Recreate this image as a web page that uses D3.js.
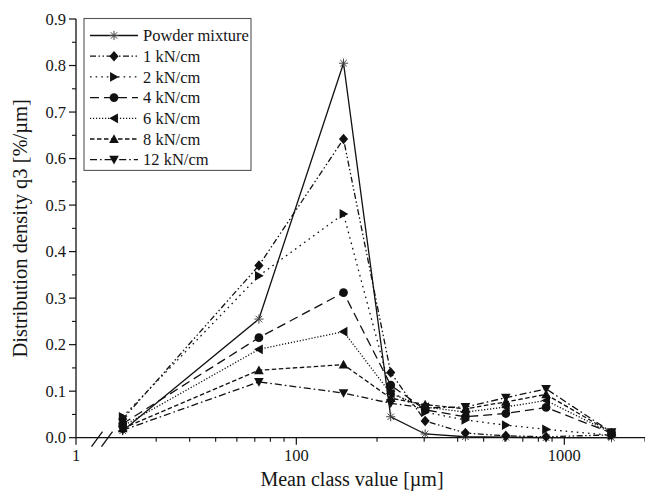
<!DOCTYPE html>
<html>
<head>
<meta charset="utf-8">
<script src="https://cdn.jsdelivr.net/npm/d3@7/dist/d3.min.js"></script>
<style>
  html, body { margin: 0; padding: 0; background: #fff; }
  svg { display: block; }
  text { font-family: "Liberation Serif", "Times New Roman", serif; fill: #151515; }
</style>
</head>
<body>
<svg id="chart" width="645" height="491"></svg>
<script>
// Mean class values of the sieve fractions [µm]
const classMeans = [22.5, 72.5, 150, 225, 302.5, 427.5, 605, 855, 1500];

// Distribution density q3 [%/µm] per roll compaction force
const powderMixture = [0.015, 0.255, 0.805, 0.045, 0.008, 0.002, 0.001, 0.000, 0.000];
const kN1  = [0.040, 0.370, 0.642, 0.140, 0.036, 0.010, 0.004, 0.002, 0.006];
const kN2  = [0.045, 0.348, 0.481, 0.100, 0.055, 0.038, 0.027, 0.018, 0.005];
const kN4  = [0.030, 0.215, 0.312, 0.113, 0.060, 0.045, 0.052, 0.065, 0.010];
const kN6  = [0.025, 0.190, 0.228, 0.095, 0.066, 0.055, 0.066, 0.080, 0.010];
const kN8  = [0.020, 0.145, 0.157, 0.085, 0.071, 0.062, 0.077, 0.093, 0.011];
const kN12 = [0.016, 0.120, 0.096, 0.074, 0.064, 0.066, 0.086, 0.105, 0.012];

const seriesNames = ["Powder mixture", "1 kN/cm", "2 kN/cm", "4 kN/cm", "6 kN/cm", "8 kN/cm", "12 kN/cm"];
const seriesValues = [powderMixture, kN1, kN2, kN4, kN6, kN8, kN12];

// Axis ticks
const yTicks = [0.0, 0.1, 0.2, 0.3, 0.4, 0.5, 0.6, 0.7, 0.8, 0.9];
const yTickLabels = ["0.0", "0.1", "0.2", "0.3", "0.4", "0.5", "0.6", "0.7", "0.8", "0.9"];
const xMajorTicks = [1, 100, 1000];
const xTickLabels = ["1", "100", "1000"];
const xMinorTicks = [30, 40, 50, 60, 70, 80, 90, 200, 300, 400, 500, 600, 700, 800, 900, 2000];

// Line styles and symbols, one per series
const dashes = [null, "6,2.5,1.5,2.5,1.5,2.5", "1.6,4", "9,5", "1.2,1.8", "4.5,2.5", "7,3,1.6,3"];
const symbols = ["asterisk", "diamond", "triRight", "circle", "triLeft", "triUp", "triDown"];

const svg = d3.select("#chart");
const plotLeft = 76, plotRight = 645, plotTop = 19, plotBottom = 437.7;

// Broken log axis: a short stub holding "1", then the log segment from 20 µm upward
const xMain = d3.scaleLog().domain([20, 2000]).range([109, plotRight]);
const xStub = d3.scaleLinear().domain([1, 2]).range([plotLeft, 96]);
const x = v => (v < 20 ? xStub(v) : xMain(v));
const y = d3.scaleLinear().domain([0, 0.9]).range([plotBottom, plotTop]);

const ink = "#111";

// ---- y axis ----
const gy = svg.append("g");
gy.append("line").attr("x1", plotLeft).attr("x2", plotLeft)
  .attr("y1", y(0.9)).attr("y2", y(0)).attr("stroke", ink).attr("stroke-width", 1.3);
yTicks.forEach((t, i) => {
  gy.append("line").attr("x1", plotLeft - 7).attr("x2", plotLeft)
    .attr("y1", y(t)).attr("y2", y(t)).attr("stroke", ink).attr("stroke-width", 1.2);
  gy.append("text").attr("x", plotLeft - 10).attr("y", y(t)).attr("dy", "0.35em")
    .attr("text-anchor", "end").attr("font-size", 16.5).text(yTickLabels[i]);
  if (i < yTicks.length - 1) {
    const m = (t + yTicks[i + 1]) / 2;
    gy.append("line").attr("x1", plotLeft - 4).attr("x2", plotLeft)
      .attr("y1", y(m)).attr("y2", y(m)).attr("stroke", ink).attr("stroke-width", 1.1);
  }
});
gy.append("text")
  .attr("transform", `translate(27,${(y(0) + y(0.9)) / 2}) rotate(-90)`)
  .attr("text-anchor", "middle").attr("font-size", 20.5)
  .text("Distribution density q3 [%/µm]");

// ---- x axis ----
const gx = svg.append("g");
gx.append("line").attr("x1", plotLeft).attr("x2", plotRight)
  .attr("y1", plotBottom).attr("y2", plotBottom).attr("stroke", ink).attr("stroke-width", 1.3);
xMajorTicks.forEach((t, i) => {
  gx.append("line").attr("x1", x(t)).attr("x2", x(t))
    .attr("y1", plotBottom).attr("y2", plotBottom + 7).attr("stroke", ink).attr("stroke-width", 1.2);
  gx.append("text").attr("x", x(t)).attr("y", plotBottom + 23)
    .attr("text-anchor", "middle").attr("font-size", 16.5).text(xTickLabels[i]);
});
xMinorTicks.forEach(t => {
  gx.append("line").attr("x1", x(t)).attr("x2", x(t))
    .attr("y1", plotBottom).attr("y2", plotBottom + 4).attr("stroke", ink).attr("stroke-width", 1.1);
});
// break marks
const breakX = (xStub(2) + xMain(20)) / 2;
[-5, 5].forEach(off => {
  gx.append("line")
    .attr("x1", breakX + off - 6).attr("y1", plotBottom + 9)
    .attr("x2", breakX + off + 5).attr("y2", plotBottom - 6)
    .attr("stroke", ink).attr("stroke-width", 1.3);
});
gx.append("text").attr("x", 352).attr("y", 486)
  .attr("text-anchor", "middle").attr("font-size", 20)
  .text("Mean class value [µm]");

// ---- symbols ----
function drawSymbol(g, kind, cx, cy) {
  const s = 4.6;
  if (kind === "asterisk") {
    const a = g.append("g").attr("stroke", "#444").attr("stroke-width", 1);
    for (let k = 0; k < 4; k++) {
      const ang = k * Math.PI / 4;
      a.append("line")
        .attr("x1", cx - s * Math.cos(ang)).attr("y1", cy - s * Math.sin(ang))
        .attr("x2", cx + s * Math.cos(ang)).attr("y2", cy + s * Math.sin(ang));
    }
    return;
  }
  let pts;
  if (kind === "diamond") pts = [[0, -s * 1.15], [s * 1.0, 0], [0, s * 1.15], [-s * 1.0, 0]];
  else if (kind === "triUp") pts = [[0, -s * 1.05], [s * 1.05, s * 0.85], [-s * 1.05, s * 0.85]];
  else if (kind === "triDown") pts = [[0, s * 1.05], [s * 1.05, -s * 0.85], [-s * 1.05, -s * 0.85]];
  else if (kind === "triRight") pts = [[s * 1.05, 0], [-s * 0.85, -s * 1.05], [-s * 0.85, s * 1.05]];
  else if (kind === "triLeft") pts = [[-s * 1.05, 0], [s * 0.85, -s * 1.05], [s * 0.85, s * 1.05]];
  if (kind === "circle") {
    g.append("circle").attr("cx", cx).attr("cy", cy).attr("r", s * 0.95).attr("fill", ink);
  } else {
    g.append("polygon").attr("points", pts.map(p => [cx + p[0], cy + p[1]].join(",")).join(" "))
      .attr("fill", ink);
  }
}

// ---- series ----
const line = d3.line().x(d => x(d[0])).y(d => y(d[1]));
const gs = svg.append("g");
seriesValues.forEach((vals, si) => {
  const pts = classMeans.map((c, i) => [c, vals[i]]);
  gs.append("path").attr("d", line(pts)).attr("fill", "none")
    .attr("stroke", ink).attr("stroke-width", 1.3)
    .attr("stroke-dasharray", dashes[si]);
});
seriesValues.forEach((vals, si) => {
  const g = gs.append("g");
  classMeans.forEach((c, i) => drawSymbol(g, symbols[si], x(c), y(vals[i])));
});

// ---- legend ----
const lg = svg.append("g");
const lgLeft = 84, lgTop = 18.5, lgRight = 251, rowH = 20.7;
lg.append("rect").attr("x", lgLeft).attr("y", lgTop).attr("width", lgRight - lgLeft)
  .attr("height", rowH * seriesNames.length + 7).attr("fill", "#fff")
  .attr("stroke", "#555").attr("stroke-width", 1.1);
seriesNames.forEach((name, si) => {
  const cy = lgTop + 17 + si * rowH;
  lg.append("line").attr("x1", 90).attr("x2", 138).attr("y1", cy).attr("y2", cy)
    .attr("stroke", ink).attr("stroke-width", 1.3).attr("stroke-dasharray", dashes[si]);
  drawSymbol(lg, symbols[si], 114, cy);
  lg.append("text").attr("x", 143).attr("y", cy).attr("dy", "0.35em")
    .attr("font-size", 16.5).text(name);
});
</script>
</body>
</html>
